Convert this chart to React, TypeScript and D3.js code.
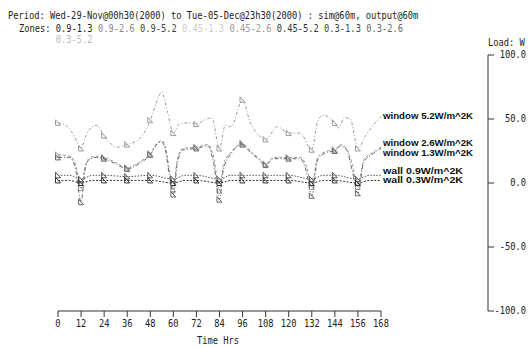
import React from "react";
import * as d3 from "d3";

// hours / load values (W)
const win52Hrs = [0, 4, 8, 12, 14, 17, 20, 24, 28, 31, 36, 42, 48, 51, 54, 57, 60, 63, 68, 72, 76, 80, 84, 87, 90, 96, 100, 104, 108, 114, 120, 126, 132, 135, 138, 144, 146, 149, 152, 156, 160, 168];
const win52Vals = [47, 45, 38, 27, 35, 43, 45, 37, 30, 28, 30, 34, 49, 62, 71, 55, 39, 46, 47, 46, 49, 51, 27, 45, 44, 65, 47, 38, 34, 44, 39, 39, 26, 48, 53, 47, 43, 51, 50, 27, 37, 52];

const win26Hrs = [0, 6, 9, 12, 14, 16, 20, 24, 30, 36, 42, 48, 52, 54, 56, 58, 60, 62, 65, 72, 78, 81, 84, 86, 90, 96, 100, 104, 108, 112, 120, 126, 129, 132, 135, 140, 144, 147, 150, 153, 156, 159, 164, 168];
const win26Vals = [22, 21, 15, -4, 12, 19, 21, 20, 16, 12, 16, 23, 32, 33, 27, 10, -5, 18, 27, 28, 30, 20, -6, 14, 24, 31, 25, 20, 15, 20, 20, 20, 14, -3, 20, 25, 26, 30, 27, 15, -3, 18, 24, 28];

const win13Hrs = win26Hrs;
const win13Vals = [20, 20, 12, -15, 10, 18, 20, 19, 15, 11, 15, 22, 31, 32, 25, 5, -9, 15, 26, 27, 29, 15, -13, 10, 23, 30, 24, 19, 14, 19, 19, 19, 10, -10, 18, 24, 25, 29, 26, 10, -8, 16, 23, 27];

const wallHrs = [0, 6, 12, 18, 24, 36, 48, 60, 66, 72, 84, 90, 96, 108, 120, 132, 138, 144, 156, 162, 168];
const wall09Vals = [6, 6, 3, 6, 6, 5, 6, 3, 6, 6, 3, 6, 6, 6, 6, 3, 6, 6, 3, 6, 6];
const wall03Vals = [2, 2, 0, 2, 2, 2, 2, 0, 2, 2, 0, 2, 2, 2, 2, 0, 2, 2, 0, 2, 2];

const seriesNames = ["window 5.2W/m^2K", "window 2.6W/m^2K", "window 1.3W/m^2K", "wall 0.9W/m^2K", "wall 0.3W/m^2K"];
// where the end labels sit, in load units
const labelVals = [53, 32, 24, 9.5, 2.5];

const xTicks = d3.range(0, 169, 12);
const yTicks = [100, 50, 0, -50, -100];

const zoneNames = ["0.9-1.3", "0.9-2.6", "0.9-5.2", "0.45-1.3", "0.45-2.6", "0.45-5.2", "0.3-1.3", "0.3-2.6", "0.3-5.2"];
const zoneColors = ["#222", "#888", "#444", "#ccc", "#999", "#333", "#444", "#666", "#bbb"];

const headerText = "Period: Wed-29-Nov@00h30(2000) to Tue-05-Dec@23h30(2000) : sim@60m, output@60m";

const mono = "'DejaVu Sans Mono', monospace";
const charW = 5.26;
const fs = 9.6;

function Mono({ x, y, children, fill = "#222", anchor = "start" }: any) {
  const s = String(children);
  return (
    <text
      x={x}
      y={y}
      fontFamily={mono}
      fontSize={fs}
      fill={fill}
      textAnchor={anchor}
      textLength={s.length * charW}
      lengthAdjust="spacingAndGlyphs"
    >
      {s}
    </text>
  );
}

export default function App() {
  const width = 528;
  const height = 347;
  const x = d3.scaleLinear().domain([0, 168]).range([58, 381]);
  const y = d3.scaleLinear().domain([-100, 100]).range([311, 55]);

  const series = [
    { hrs: win52Hrs, vals: win52Vals, color: "#9a9a9a", dash: "3,2,1,2" },
    { hrs: win26Hrs, vals: win26Vals, color: "#999", dash: "3,2" },
    { hrs: win13Hrs, vals: win13Vals, color: "#666", dash: "4,2,1,2" },
    { hrs: wallHrs, vals: wall09Vals, color: "#555", dash: "1.5,1.5" },
    { hrs: wallHrs, vals: wall03Vals, color: "#333", dash: "2,1.5" },
  ];

  const line = d3
    .line<[number, number]>()
    .x((d) => x(d[0]))
    .y((d) => y(d[1]))
    .curve(d3.curveMonotoneX);

  const zoneX0 = 19 + 7 * charW;

  return (
    <svg width={width} height={height} style={{ position: "absolute", left: 0, top: 0, background: "#fff" }}>
      {/* header */}
      <Mono x={8} y={19}>{headerText}</Mono>
      <Mono x={19} y={32}>Zones:</Mono>
      {zoneNames.map((z, i) => {
        let col = 0;
        for (let k = 0; k < i && k < 8; k++) col += zoneNames[k].length + 1;
        const xx = i < 8 ? zoneX0 + col * charW : zoneX0;
        const yy = i < 8 ? 32 : 43;
        return (
          <Mono key={z} x={xx} y={yy} fill={zoneColors[i]}>
            {z}
          </Mono>
        );
      })}

      {/* series */}
      {series.map((s, i) => {
        const pts = s.hrs.map((h, j) => [h, s.vals[j]] as [number, number]);
        return (
          <g key={i}>
            <path d={line(pts) || ""} fill="none" stroke={s.color} strokeWidth={1} strokeDasharray={s.dash} />
            {pts
              .filter((p) => p[0] % 12 === 0 && p[0] < 168)
              .map((p, j) => {
                const cx = x(p[0]);
                const cy = y(p[1]);
                return (
                  <path
                    key={j}
                    d={`M${cx - 2.5},${cy + 2.5}L${cx - 2.5},${cy - 3}L${cx + 2.5},${cy + 2.5}Z`}
                    fill="none"
                    stroke={s.color}
                    strokeWidth={1}
                  />
                );
              })}
            <text
              x={383}
              y={y(labelVals[i]) + 3.5}
              fontFamily="'Liberation Sans', Arial, sans-serif"
              fontWeight="bold"
              fontSize={8.6}
              fill="#111"
              textLength={i < 3 ? 90 : 80}
              lengthAdjust="spacingAndGlyphs"
            >
              {seriesNames[i]}
            </text>
          </g>
        );
      })}

      {/* x axis */}
      <g>
        <line x1={x(0)} x2={x(168)} y1={311} y2={311} stroke="#333" />
        {xTicks.map((t) => (
          <g key={t}>
            <line x1={x(t)} x2={x(t)} y1={311} y2={317} stroke="#333" />
            <Mono x={x(t)} y={327} anchor="middle">{t}</Mono>
          </g>
        ))}
        <Mono x={218} y={344} anchor="middle">Time Hrs</Mono>
      </g>

      {/* right y axis */}
      <g>
        <line x1={488} x2={488} y1={y(100)} y2={y(-100)} stroke="#333" />
        {yTicks.map((t) => (
          <g key={t}>
            <line x1={488} x2={494} y1={y(t)} y2={y(t)} stroke="#333" />
            <Mono x={526} y={y(t) + 3} anchor="end">{t.toFixed(1)}</Mono>
          </g>
        ))}
        <Mono x={488} y={46}>Load: W</Mono>
      </g>
    </svg>
  );
}
